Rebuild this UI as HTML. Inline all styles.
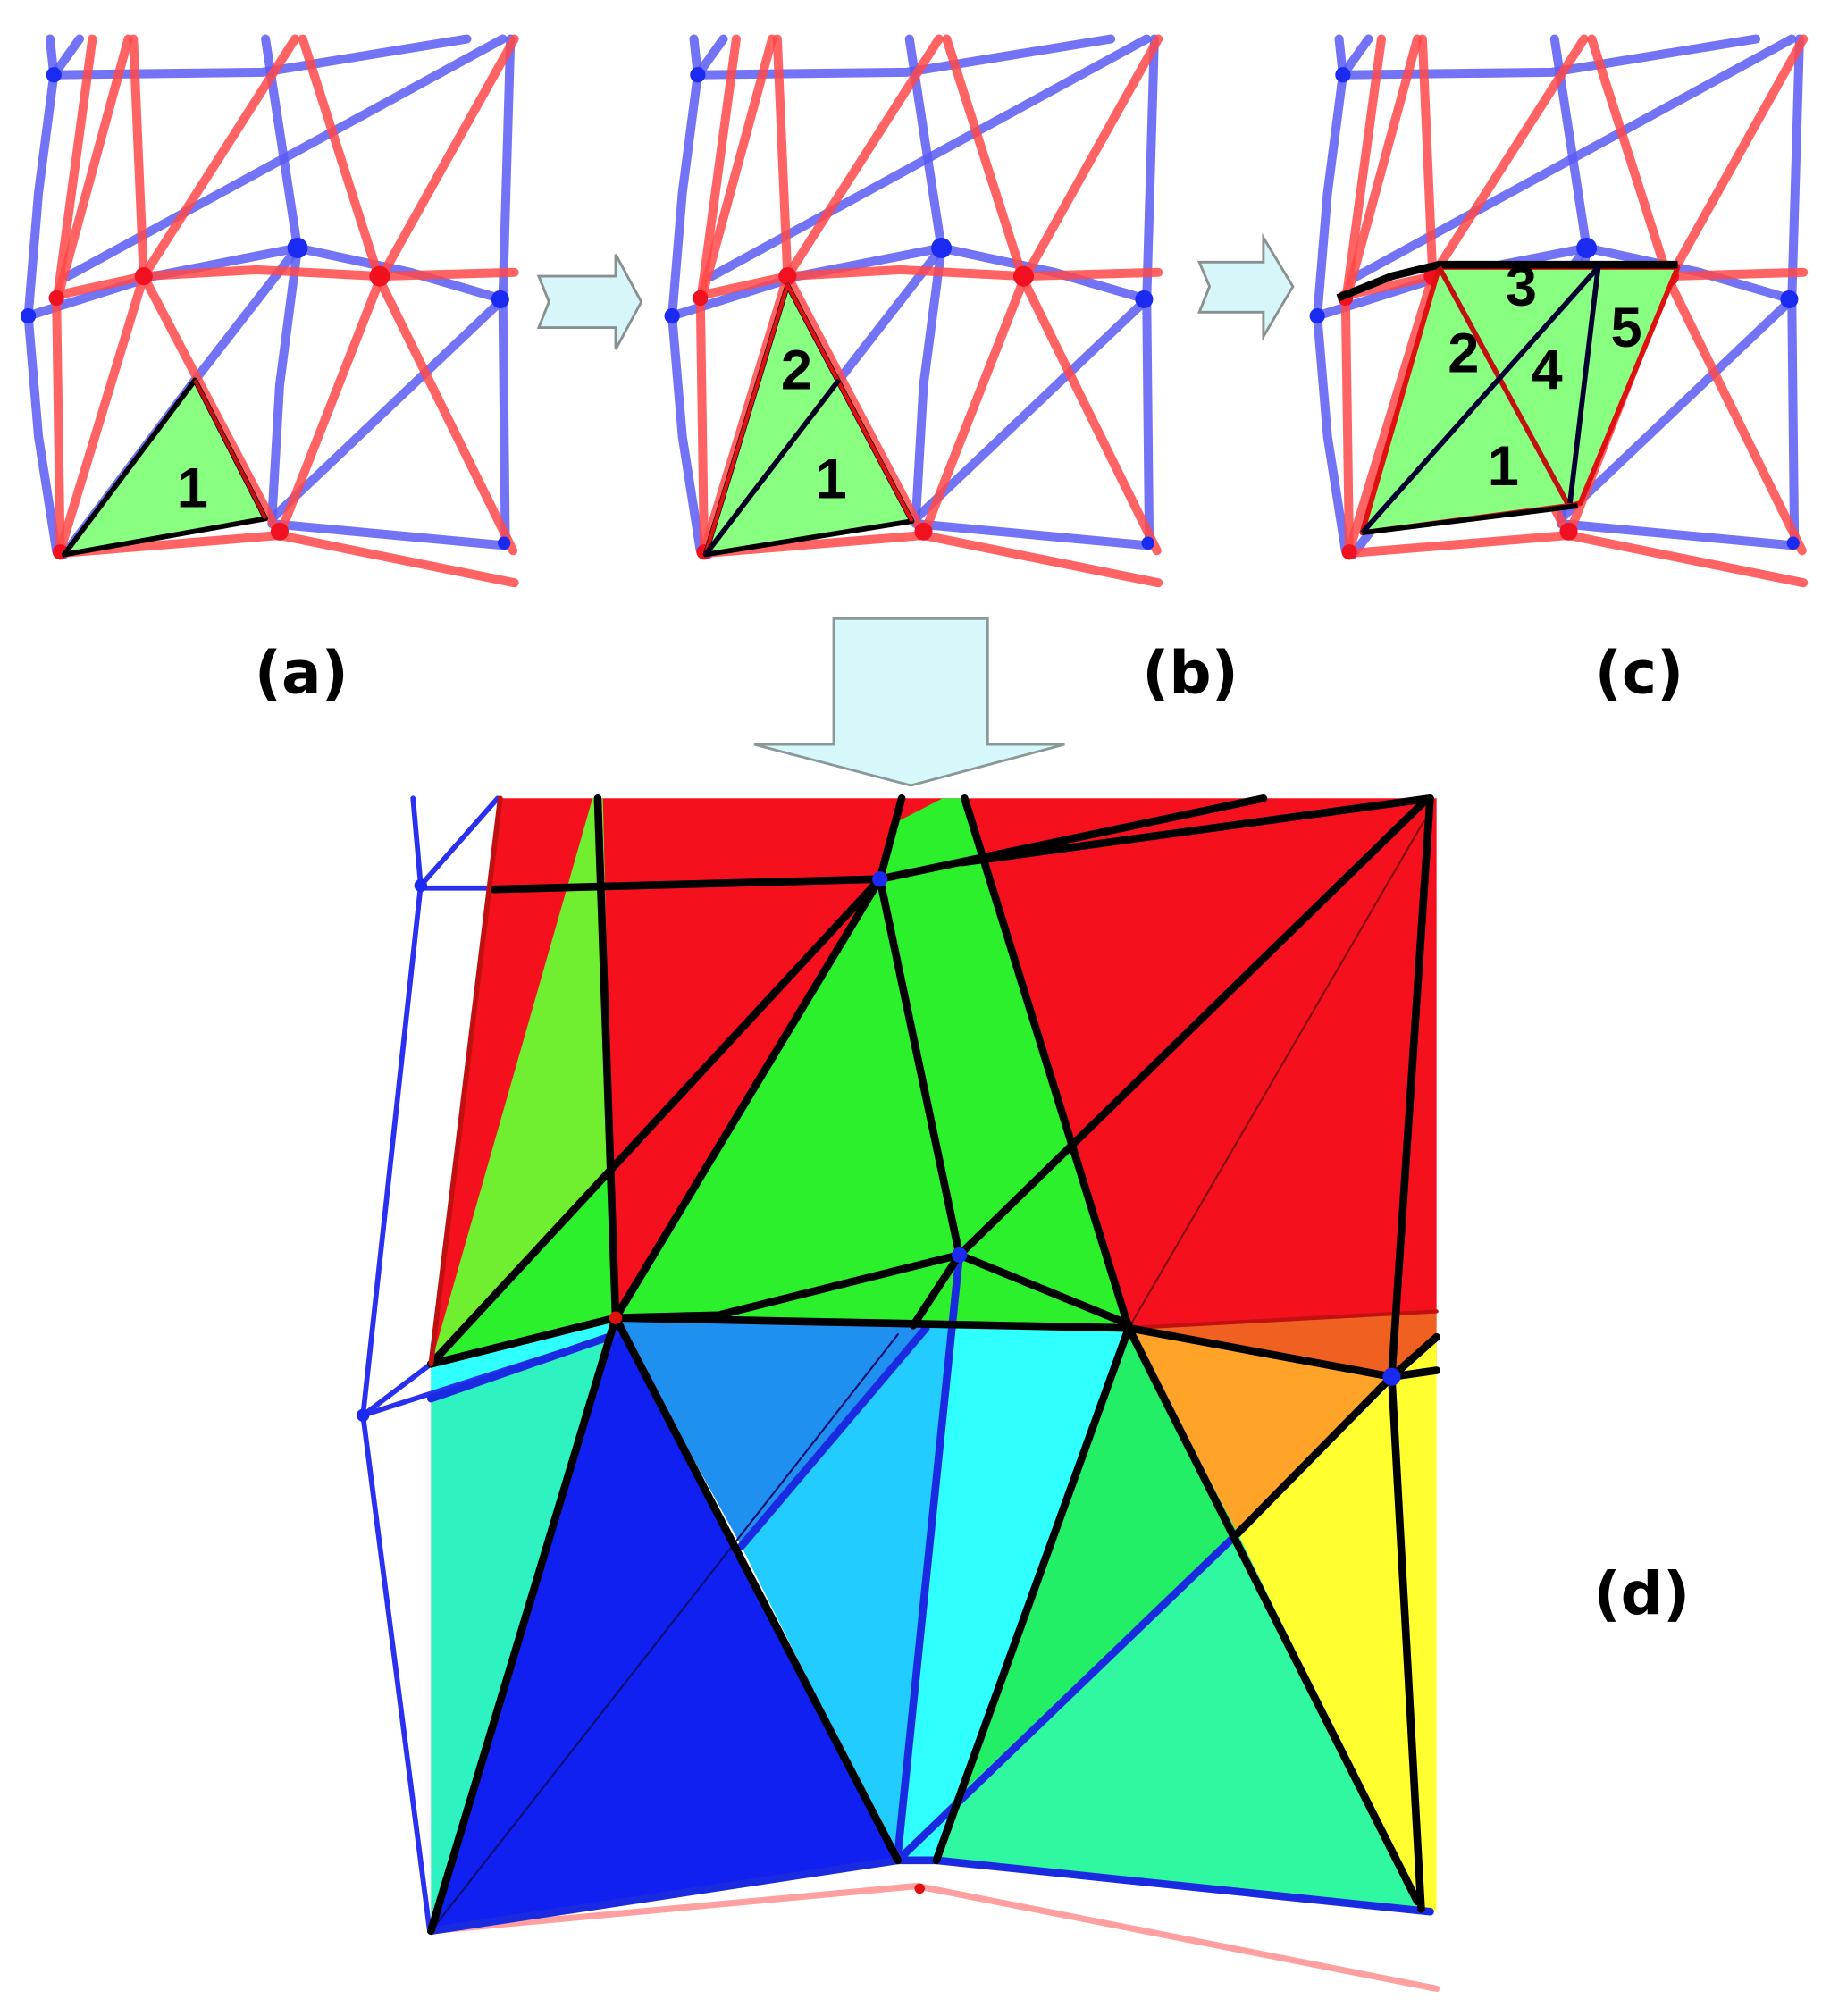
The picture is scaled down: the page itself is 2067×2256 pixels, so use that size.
<!DOCTYPE html>
<html><head><meta charset="utf-8"><style>
html,body{margin:0;padding:0;background:#fff;}
svg{display:block;}
</style></head><body>
<svg width="2067" height="2256" viewBox="0 0 1440 1571" xmlns="http://www.w3.org/2000/svg">
<rect width="1440" height="1571" fill="#fff"/>
<defs>
<g id="mesh" stroke-linecap="round" fill="none">
 <g stroke="#5a5af5" stroke-width="7" stroke-opacity="0.85">
  <polyline points="39,30 42,58 30,150 22,246 30,340 44,429"/>
  <polyline points="42,58 205,56 364,30"/>
  <line x1="42" y1="58" x2="62" y2="30"/>
  <polyline points="207,30 232,193 218,300 212,404"/>
  <polyline points="398,30 392,233 394,423"/>
  <polyline points="22,246 120,215 232,193 320,212 392,233"/>
  <line x1="53" y1="215" x2="392" y2="30"/>
  <line x1="212" y1="404" x2="392" y2="233"/>
  <polyline points="50,432 152,296 232,193"/>
  <line x1="212" y1="408" x2="394" y2="425"/>
 </g>
 <g stroke="#ff4848" stroke-width="7" stroke-opacity="0.85">
  <line x1="72" y1="30" x2="45" y2="229"/>
  <line x1="100" y1="30" x2="45" y2="232"/>
  <line x1="104" y1="30" x2="112" y2="215"/>
  <line x1="44" y1="230" x2="47" y2="429"/>
  <line x1="47" y1="429" x2="112" y2="215"/>
  <line x1="112" y1="215" x2="230" y2="30"/>
  <polyline points="44,230 112,215 200,210 296,215 401,212"/>
  <line x1="112" y1="215" x2="218" y2="417"/>
  <polyline points="236,30 296,218 400,429"/>
  <polyline points="401,30 296,218 218,417"/>
  <polyline points="47,431 218,417 401,454"/>
 </g>
 <g stroke="none">
  <circle cx="42" cy="58" r="6" fill="#1a2af0"/>
  <circle cx="22" cy="246" r="6" fill="#1a2af0"/>
  <circle cx="232" cy="193" r="8" fill="#1a2af0"/>
  <circle cx="390" cy="233" r="7" fill="#1a2af0"/>
  <circle cx="393" cy="423" r="5" fill="#1a2af0"/>
  <circle cx="44" cy="232" r="6" fill="#f01020"/>
  <circle cx="112" cy="215" r="7" fill="#f01020"/>
  <circle cx="296" cy="215" r="8" fill="#f01020"/>
  <circle cx="218" cy="414" r="7" fill="#f01020"/>
  <circle cx="47" cy="430" r="6" fill="#f01020"/>
 </g>
</g>
</defs>

<use href="#mesh"/>
<polygon points="152,296 50,432 207,404" fill="#88ff80" stroke="#000" stroke-width="4" stroke-linejoin="round"/>
<polyline points="152,296 207,404" stroke="#c01010" stroke-width="3" fill="none"/>
<g font-family="Liberation Sans, sans-serif" font-weight="bold" font-size="44" fill="#000" text-anchor="middle">
<text x="150" y="395">1</text>
</g>

<use href="#mesh" transform="translate(502,0)"/>
<polygon points="614,222 550,432 711,406" fill="#88ff80" stroke="#000" stroke-width="4" stroke-linejoin="round"/>
<polyline points="550,432 614,222 711,406" stroke="#e01010" stroke-width="3" fill="none"/>
<line x1="550" y1="432" x2="654" y2="296" stroke="#000022" stroke-width="4"/>

<use href="#mesh" transform="translate(1005,0)"/>
<polygon points="1122,208 1308,208 1232,392 1222,394 1062,415" fill="#88ff80" stroke="#e01010" stroke-width="4" stroke-linejoin="round"/>
<polyline points="1043,232 1085,215 1122,206 1308,206" stroke="#000" stroke-width="6" fill="none"/>
<line x1="1122" y1="208" x2="1222" y2="392" stroke="#c01010" stroke-width="4"/>
<line x1="1062" y1="415" x2="1246" y2="208" stroke="#000033" stroke-width="4"/>
<line x1="1246" y1="208" x2="1224" y2="392" stroke="#000033" stroke-width="4"/>
<line x1="1062" y1="415" x2="1230" y2="394" stroke="#000" stroke-width="4"/>
<g font-family="Liberation Sans, sans-serif" font-weight="bold" font-size="44" fill="#000" text-anchor="middle">
<text x="621" y="303">2</text>
<text x="648" y="388">1</text>
<text x="1186" y="238">3</text>
<text x="1141" y="290">2</text>
<text x="1206" y="303">4</text>
<text x="1268" y="270">5</text>
<text x="1172" y="378">1</text>
</g>

<polygon points="420,215 480,215 480,198 500,235 480,272 480,255 420,255 428,235" fill="#d6f6fa" stroke="#8a9090" stroke-width="2"/>
<polygon points="935,204 985,204 985,185 1008,223 985,262 985,243 935,243 943,223" fill="#d6f6fa" stroke="#8a9090" stroke-width="2"/>
<polygon points="650,482 770,482 770,580 830,580 710,612 588,580 650,580" fill="#d6f8fb" stroke="#8a9898" stroke-width="2"/>

<g font-family="DejaVu Sans, Liberation Sans, sans-serif" font-weight="bold" font-size="46" fill="#000" text-anchor="middle">
<text x="235" y="540">(a)</text>
<text x="928" y="540">(b)</text>
<text x="1278" y="540">(c)</text>
<text x="1280" y="1258">(d)</text>
</g>

<g stroke-linejoin="round">
<polygon points="390,622 1120,622 1120,1022 880,1035 480,1027 336,1063" fill="#f5101e"/>
<polygon points="462,622 470,622 480,1027 336,1063" fill="#70ee30"/>
<polygon points="336,1063 475,913 480,1027" fill="#2cf02c"/>
<polygon points="480,1027 686,685 700,640 735,622 752,622 880,1035" fill="#2cf02c"/>
<polygon points="880,1035 1120,1022 1120,1068 1085,1073" fill="#f06020"/>
<polygon points="880,1035 1085,1073 965,1195" fill="#ffa428"/>
<polygon points="965,1195 1085,1073 1120,1040 1120,1490 1108,1488" fill="#ffff30"/>
<polygon points="336,1063 480,1027 336,1505" fill="#2ef2c0"/>
<polygon points="336,1063 480,1027 480,1040 336,1090" fill="#30ffff"/>
<polygon points="480,1027 336,1505 700,1450" fill="#1020f0"/>
<polygon points="480,1027 725,1033 578,1205" fill="#2090f0"/>
<polygon points="578,1205 725,1033 745,1033 700,1450" fill="#22ccff"/>
<polygon points="745,1033 880,1035 730,1450 700,1450" fill="#30ffff"/>
<polygon points="880,1035 965,1195 752,1395" fill="#22ee66"/>
<polygon points="965,1195 1108,1488 1115,1490 730,1450 752,1395" fill="#30f8a0"/>
</g>
<g fill="none" stroke-linecap="round">
<line x1="336" y1="1505" x2="700" y2="1040" stroke="#0a1070" stroke-width="1.5"/>
<line x1="880" y1="1035" x2="1110" y2="640" stroke="#801010" stroke-width="1.5"/>
<line x1="880" y1="1035" x2="1120" y2="1022" stroke="#c01010" stroke-width="3"/>
<g stroke="#2a30f0" stroke-width="4">
<polyline points="322,622 328,690 283,1103 335,1505"/>
<line x1="328" y1="690" x2="388" y2="622"/>
<line x1="328" y1="692" x2="390" y2="692"/>
<line x1="283" y1="1103" x2="336" y2="1063"/>
<line x1="283" y1="1103" x2="480" y2="1040"/>
</g>
<polyline points="336,1505 715,1470 1120,1550" stroke="#ff8888" stroke-width="5" opacity="0.8"/>
<g stroke="#1a2ae0" stroke-width="6">
<line x1="578" y1="1205" x2="722" y2="1035"/>
<line x1="748" y1="978" x2="700" y2="1445"/>
<line x1="700" y1="1450" x2="965" y2="1195"/>
<line x1="730" y1="1450" x2="1115" y2="1490"/>
<line x1="336" y1="1505" x2="700" y2="1450"/>
<line x1="336" y1="1090" x2="480" y2="1040"/>
<line x1="700" y1="1450" x2="730" y2="1450"/>
</g>
<g stroke="#000" stroke-width="6">
<line x1="385" y1="693" x2="686" y2="685"/>
<line x1="686" y1="685" x2="985" y2="622"/>
<line x1="750" y1="672" x2="1115" y2="622"/>
<line x1="686" y1="685" x2="703" y2="622"/>
<line x1="686" y1="685" x2="748" y2="978"/>
<line x1="686" y1="685" x2="336" y2="1063"/>
<line x1="686" y1="685" x2="480" y2="1027"/>
<line x1="466" y1="622" x2="480" y2="1027"/>
<line x1="748" y1="978" x2="1110" y2="625"/>
<line x1="752" y1="622" x2="880" y2="1035"/>
<line x1="748" y1="978" x2="880" y2="1032"/>
<polyline points="480,1027 560,1025 748,978"/>
<line x1="748" y1="978" x2="712" y2="1033"/>
<line x1="480" y1="1027" x2="880" y2="1035"/>
<line x1="336" y1="1063" x2="480" y2="1027"/>
<line x1="480" y1="1027" x2="336" y2="1505"/>
<line x1="480" y1="1027" x2="700" y2="1450"/>
<line x1="880" y1="1035" x2="730" y2="1450"/>
<line x1="965" y1="1195" x2="1085" y2="1073"/>
<line x1="880" y1="1035" x2="1085" y2="1073"/>
<line x1="1085" y1="1073" x2="1120" y2="1068"/>
<line x1="1085" y1="1073" x2="1120" y2="1042"/>
<line x1="880" y1="1035" x2="1105" y2="1482"/>
<line x1="1085" y1="1073" x2="1108" y2="1488"/>
<line x1="1115" y1="622" x2="1085" y2="1073"/>
</g>
<line x1="390" y1="622" x2="336" y2="1063" stroke="#c01010" stroke-width="4"/>
</g>
<circle cx="686" cy="685" r="6" fill="#1a2af0"/>
<circle cx="748" cy="978" r="6" fill="#1a2af0"/>
<circle cx="480" cy="1027" r="5" fill="#e01010"/>
<circle cx="1085" cy="1073" r="7" fill="#1a2af0"/>
<circle cx="328" cy="690" r="5" fill="#1a2af0"/>
<circle cx="283" cy="1103" r="5" fill="#1a2af0"/>
<circle cx="717" cy="1472" r="4" fill="#e01010"/>
</svg>
</body></html>
